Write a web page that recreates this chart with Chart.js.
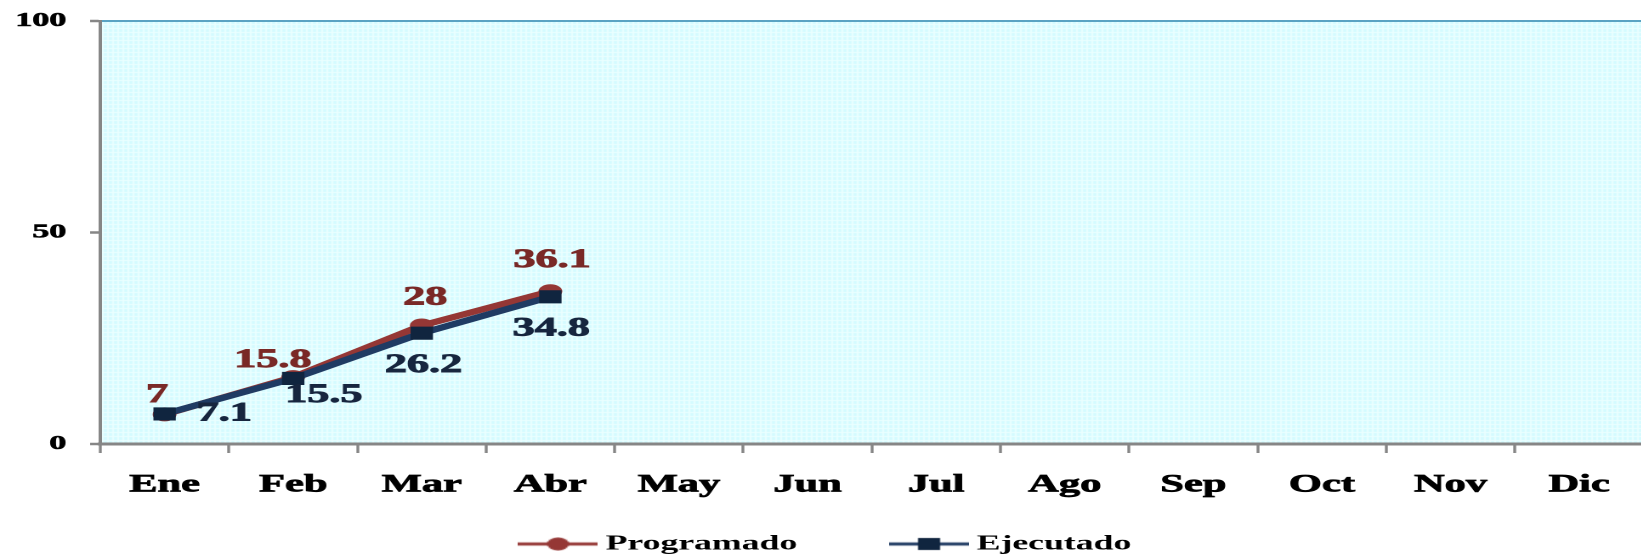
<!DOCTYPE html>
<html><head><meta charset="utf-8">
<script src="https://cdn.jsdelivr.net/npm/chart.js@4"></script>
<style>
html,body{margin:0;padding:0;overflow:hidden;background:#fff;width:1641px;height:555px}
#wrap{position:absolute;left:0;top:0;width:976px;height:555px;transform:scaleX(1.7);transform-origin:0 0}
</style></head><body>
<div id="wrap"><canvas id="c" width="976" height="555"></canvas></div>
<script>
// ---- data ----
const categories = ['Ene','Feb','Mar','Abr','May','Jun','Jul','Ago','Sep','Oct','Nov','Dic'];
const seriesNames = ['Programado','Ejecutado'];
const programado = [7, 15.8, 28, 36.1];
const ejecutado = [7.1, 15.5, 26.2, 34.8];
const yTicks = [0, 50, 100];

// ---- styles ----
const lineColors = ['#953735', '#1F3B63'];
const markerColors = ['#953735', '#10253F'];
const labelColors = ['#7A2927', '#17263F'];
const labelOffsets = [
  [[-4.5,-19],[-12,-17],[2,-28],[1,-31]],
  [[35,0],[18,17],[1,32],[0.5,32]]
];
const FONT = '"Liberation Serif", "Times New Roman", serif';

function legendIcon(color, mColor, shape){
  const c = document.createElement('canvas'); c.width = 47; c.height = 14;
  const g = c.getContext('2d');
  g.strokeStyle = color; g.lineWidth = 3;
  g.beginPath(); g.moveTo(0,7); g.lineTo(47,7); g.stroke();
  g.fillStyle = mColor;
  if (shape === 'circle'){ g.beginPath(); g.arc(23.5,7,6.5,0,Math.PI*2); g.fill(); }
  else { g.fillRect(17,1,13,12); }
  return c;
}
const icons = [legendIcon(lineColors[0], markerColors[0], 'circle'), legendIcon(lineColors[1], markerColors[1], 'rect')];

const bgPlugin = {
  id:'plotBg',
  beforeDraw(chart){
    const {ctx, chartArea:a} = chart;
    const p = document.createElement('canvas'); p.width = 3; p.height = 4;
    const pc = p.getContext('2d');
    pc.fillStyle = '#d4fbff'; pc.fillRect(0,0,3,4);
    pc.fillStyle = '#ecffff'; pc.fillRect(0,0,3,1); pc.fillRect(0,0,1,4);
    ctx.save();
    ctx.fillStyle = ctx.createPattern(p,'repeat');
    ctx.fillRect(a.left, a.top, a.right-a.left, a.bottom-a.top);
    ctx.restore();
  }
};
const labelPlugin = {
  id:'valueLabels',
  afterDatasetsDraw(chart){
    const ctx = chart.ctx;
    chart.data.datasets.forEach((ds,i)=>{
      const meta = chart.getDatasetMeta(i);
      ctx.save();
      ctx.font = 'bold 26px ' + FONT;
      ctx.fillStyle = labelColors[i]; ctx.strokeStyle = labelColors[i]; ctx.lineWidth = 0.9;
      ctx.textAlign = 'center'; ctx.textBaseline = 'middle';
      meta.data.forEach((pt,j)=>{
        const v = ds.data[j]; if (v == null) return;
        const off = labelOffsets[i][j];
        ctx.fillText(String(v), pt.x + off[0], pt.y + off[1]);
        ctx.strokeText(String(v), pt.x + off[0], pt.y + off[1]);
      });
      ctx.restore();
    });
  }
};
const legendPlace = {
  id:'legendPlace',
  afterLayout(chart){
    const L = chart.legend; const h = L.height;
    L.left = 250.7; L.top = 473.5; L.bottom = L.top + h;
  }
};

new Chart(document.getElementById('c'), {
  type:'line',
  data:{
    labels: categories,
    datasets:[
      {label:seriesNames[0], data:programado, borderColor:lineColors[0], backgroundColor:markerColors[0],
       borderWidth:6, pointStyle:'circle', pointRadius:7, pointBorderWidth:0, pointBackgroundColor:markerColors[0], tension:0, order:1},
      {label:seriesNames[1], data:ejecutado, borderColor:lineColors[1], backgroundColor:markerColors[1],
       borderWidth:6, pointStyle:'rect', pointRadius:9.3, pointBorderWidth:0, pointBackgroundColor:markerColors[1], tension:0, order:0}
    ]
  },
  options:{
    responsive:false, animation:false, devicePixelRatio:2, events:[],
    layout:{padding:{top:17, left:0, right:3.6, bottom:-50}},
    scales:{
      x:{
        type:'category', offset:true,
        grid:{offset:true, drawOnChartArea:false, drawTicks:true, tickLength:9, tickColor:'#868686', tickWidth:1.7},
        border:{display:true, color:'#868686', width:3},
        ticks:{color:'#000', padding:17, maxRotation:0, autoSkip:false, textStrokeColor:'#000', textStrokeWidth:0.7,
               font:{family:FONT, weight:'bold', size:25}},
        afterFit(s){ s.height = 70; }
      },
      y:{
        min:0, max:100,
        afterBuildTicks(s){ s.ticks = yTicks.map(v=>({value:v})); },
        grid:{drawOnChartArea:true, drawTicks:true, tickLength:6, tickColor:'#868686', tickWidth:2.5,
              color:(c)=> (c.tick && c.tick.value === 100) ? '#5AA3C3' : 'rgba(0,0,0,0)', lineWidth:2},
        border:{display:true, color:'#868686', width:2},
        ticks:{color:'#000', padding:14, textStrokeColor:'#000', textStrokeWidth:0.6,
               font:{family:FONT, weight:'bold', size:20, lineHeight:0.7}},
        afterFit(s){ s.width = 59; }
      }
    },
    plugins:{
      tooltip:{enabled:false},
      legend:{
        position:'bottom', align:'start',
        labels:{
          usePointStyle:true, pointStyleWidth:35, padding:60, color:'#000',
          font:{family:FONT, weight:'bold', size:21},
          generateLabels(chart){
            return chart.data.datasets.map((ds,i)=>({
              text: ds.label, pointStyle: icons[i], fillStyle: markerColors[i], strokeStyle: lineColors[i],
              lineWidth:0, hidden:false, datasetIndex:i, fontColor:'#000'
            }));
          }
        }
      }
    }
  },
  plugins:[bgPlugin, labelPlugin, legendPlace]
});
</script>
</body></html>
